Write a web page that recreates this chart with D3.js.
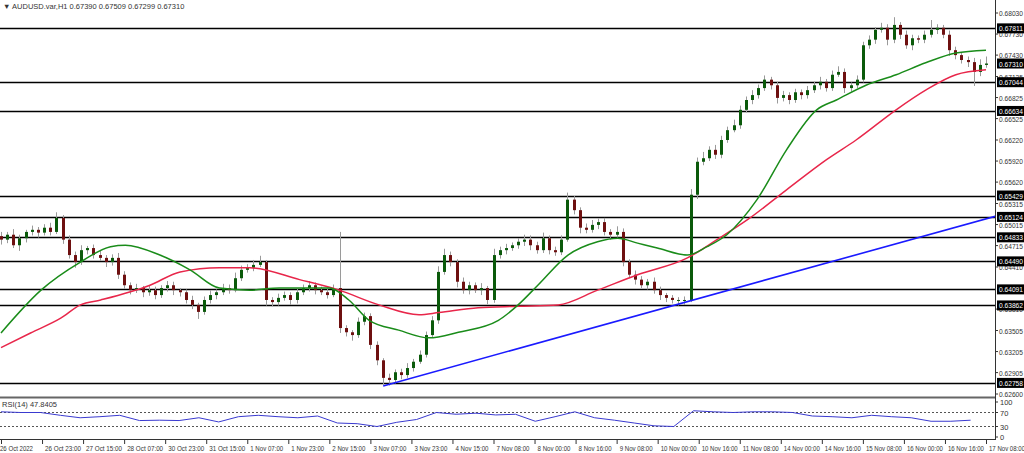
<!DOCTYPE html>
<html>
<head>
<meta charset="utf-8">
<script src="https://cdn.jsdelivr.net/npm/d3@7"></script>
<style>
body { margin: 0; background: #fff; }
svg { font-family: "Liberation Sans", Arial, sans-serif; }
</style>
</head>
<body>
<div id="chart"></div>
<script>
// candle closes in pips (6480 = 0.6480), each bar covers 2.4 hours
var firstOpen = 6485;
var closes = [
	6480,6487,6472,6482,6491,6494,6490,6497,6491,6511,
	6480,6458,6448,6465,6468,6458,6454,6448,6454,6430,
	6415,6408,6411,6405,6408,6401,6411,6415,6408,6405,
	6394,6387,6377,6394,6401,6405,6411,6408,6425,6437,
	6440,6444,6448,6394,6391,6397,6401,6394,6405,6411,
	6415,6408,6405,6401,6411,6354,6348,6344,6363,6371,
	6330,6308,6283,6280,6291,6287,6297,6306,6316,6344,
	6365,6434,6458,6448,6420,6408,6415,6408,6411,6394,
	6458,6465,6468,6472,6477,6480,6472,6465,6482,6465,
	6462,6480,6537,6522,6497,6494,6501,6505,6491,6487,
	6491,6448,6430,6423,6415,6420,6408,6401,6397,6394,
	6394,6394,6544,6591,6596,6608,6601,6622,6636,6643,
	6665,6679,6686,6696,6708,6700,6682,6686,6679,6690,
	6686,6693,6700,6705,6696,6715,6719,6696,6700,6708,
	6757,6765,6779,6782,6765,6786,6772,6757,6767,6765,
	6772,6779,6782,6772,6750,6743,6736,6733,6719,6729,
	6731
];
// upper / lower wick lengths in pips
var upWick = [
	6,4,8,5,3,6,4,5,7,8, 4,6,5,7,3,5,6,4,5,7, 5,4,6,3,7,5,4,6,5,3, 4,6,3,5,7,4,6,5,8,6,
	5,7,9,3,4,6,5,4,6,5, 6,4,5,7,5,80,4,3,6,5, 4,5,3,6,4,5,7,4,6,5, 6,8,9,5,4,6,5,4,7,3,
	9,5,6,4,5,7,6,5,8,4, 5,6,10,5,4,6,7,5,6,4, 8,5,4,6,5,4,6,5,3,4, 4,5,8,6,9,5,7,6,5,8,
	6,5,7,5,6,4,5,6,4,5, 4,6,5,7,4,6,8,5,4,6, 5,6,4,7,5,11,4,6,5,4, 6,14,5,4,6,5,4,5,6,8,
	10
];
var downWick = [
	7,5,4,8,6,5,7,4,5,3, 6,5,8,4,6,5,4,7,5,6, 5,6,4,7,5,6,4,5,7,6, 5,6,10,4,5,6,4,5,3,4,
	4,5,3,8,6,5,4,7,5,4, 5,6,4,5,3,7,6,8,4,5, 6,7,10,8,5,6,4,5,3,4, 3,5,4,6,8,5,6,4,7,6,
	4,5,6,4,5,6,7,5,4,6, 5,4,3,6,8,5,4,6,5,7, 4,6,5,7,4,6,5,7,6,5, 8,7,3,6,5,4,6,5,4,3,
	5,4,6,5,4,6,8,5,6,4, 6,5,4,6,5,4,3,7,5,4, 4,5,6,4,8,5,6,5,7,5, 5,4,6,5,8,6,5,7,20,6,
	4
];
var barHours = 2.4;

// moving averages: [bar index, pips]
var maGreen = [[0,6347],[6.5,6408],[12.9,6448],[17.8,6470],[20.2,6472],[25.8,6458],[30.7,6437],
	[35.5,6411],[40.4,6408],[45.2,6411],[53.3,6411],[56.5,6394],[59.8,6365],[64.6,6351],[69.5,6340],
	[74.3,6348],[80.8,6365],[84,6387],[87.2,6415],[92.1,6458],[96.9,6477],[100.2,6482],[103.4,6475],
	[106.6,6468],[111.5,6458],[114.7,6470],[117.9,6487],[122.8,6537],[127.6,6608],[132.5,6665],
	[135.7,6679],[140.5,6700],[145.4,6715],[150.2,6732],[155.1,6746],[160,6750]];
var maRed = [[0,6326],[4.8,6347],[9.7,6368],[12.9,6387],[16.2,6394],[24.2,6415],[29.1,6434],
	[35.5,6440],[40.4,6440],[48.5,6423],[54.9,6408],[61.4,6387],[67.9,6373],[71.1,6376],[77.5,6383],
	[84,6385],[90.5,6387],[96.9,6408],[103.4,6430],[111.5,6454],[116.3,6480],[121.2,6508],
	[127.6,6551],[134.1,6594],[138.9,6622],[145.4,6665],[150.2,6693],[155.1,6715],[160,6722]];

// trend line: [hour, price]
var trend = [[149,0.62715],[388,0.65137]];

// horizontal levels
var levels = [0.67811,0.67044,0.66634,0.65429,0.65124,0.64833,0.64490,0.64091,0.63862,0.62758];
var priceTicks = [0.68030,0.67730,0.67430,0.67125,0.66825,0.66525,0.66220,0.65920,0.65620,0.65315,
	0.65015,0.64715,0.64410,0.63810,0.63505,0.63205,0.62905,0.62600];
var lastPrice = 0.67310;

// RSI(14) sampled evenly across the chart
var rsi = [72,70,70,62,55,58,62,47,48,47,55,43,58,62,58,55,60,40,38,30,42,50,70,65,68,
	63,65,45,58,72,55,48,40,32,30,75,72,70,72,72,70,60,58,55,62,58,55,45,45,48];
var rsiTicks = [100,70,30,0];

var timeLabels = ["26 Oct 2022","26 Oct 23:00","27 Oct 15:00","28 Oct 07:00","30 Oct 23:00",
	"31 Oct 15:00","1 Nov 07:00","1 Nov 23:00","2 Nov 15:00","3 Nov 07:00","3 Nov 23:00",
	"4 Nov 15:00","7 Nov 08:00","8 Nov 00:00","8 Nov 16:00","9 Nov 08:00","10 Nov 00:00",
	"10 Nov 16:00","11 Nov 08:00","14 Nov 00:00","14 Nov 16:00","15 Nov 08:00","16 Nov 00:00",
	"16 Nov 16:00","17 Nov 08:00"];

var W = 1024, H = 453, axisX = 995, fs = "7.5px";

var svg = d3.select("#chart").append("svg").attr("width", W).attr("height", H);

var x = d3.scaleLinear().domain([0, 384]).range([1, 986]);
var y = d3.scaleLinear().domain([0.62600, 0.68030]).range([394, 13]);
var yr = d3.scaleLinear().domain([0, 100]).range([437, 402]);
var pip = function (v) { return v / 10000; };

// squeeze a label into a given width
function fit(sel, w) {
	sel.attr("textLength", w).attr("lengthAdjust", "spacingAndGlyphs");
}

// clip for main panel
svg.append("clipPath").attr("id", "mainClip").append("rect")
	.attr("x", 0).attr("y", 4).attr("width", axisX).attr("height", 390);

var main = svg.append("g").attr("clip-path", "url(#mainClip)");

// level lines
main.selectAll(".lvl").data(levels).enter().append("line")
	.attr("x1", 0).attr("x2", axisX)
	.attr("y1", function (d) { return Math.round(y(d)) + 0.5; })
	.attr("y2", function (d) { return Math.round(y(d)) + 0.5; })
	.attr("stroke", "#000").attr("stroke-width", 1.4);

// candles
var bars = closes.map(function (c, i) {
	var o = i === 0 ? firstOpen : closes[i - 1];
	return { i: i, o: pip(o), c: pip(c),
		h: pip(Math.max(o, c) + upWick[i]), l: pip(Math.min(o, c) - downWick[i]) };
});
var cg = main.append("g");
cg.selectAll(".wick").data(bars).enter().append("line")
	.attr("x1", function (d) { return Math.round(x(d.i * barHours)) + 0.5; })
	.attr("x2", function (d) { return Math.round(x(d.i * barHours)) + 0.5; })
	.attr("y1", function (d) { return y(d.h); })
	.attr("y2", function (d) { return y(d.l); })
	.attr("stroke", "#9a9a9a").attr("stroke-width", 1);
cg.selectAll(".body").data(bars).enter().append("rect")
	.attr("x", function (d) { return Math.round(x(d.i * barHours)) - 1; })
	.attr("width", 3)
	.attr("y", function (d) { return y(Math.max(d.o, d.c)); })
	.attr("height", function (d) { return Math.max(1, Math.abs(y(d.o) - y(d.c))); })
	.attr("fill", function (d) { return d.c >= d.o ? "#0b5a0b" : "#6e1010"; });

// moving averages
var maLine = d3.line()
	.x(function (d) { return x(d[0] * barHours); })
	.y(function (d) { return y(pip(d[1])); })
	.curve(d3.curveMonotoneX);
main.append("path").datum(maRed).attr("d", maLine)
	.attr("fill", "none").attr("stroke", "#e8264a").attr("stroke-width", 1.5);
main.append("path").datum(maGreen).attr("d", maLine)
	.attr("fill", "none").attr("stroke", "#1a8c1a").attr("stroke-width", 1.5);

// trend line
main.append("line")
	.attr("x1", x(trend[0][0])).attr("y1", y(trend[0][1]))
	.attr("x2", x(trend[1][0])).attr("y2", y(trend[1][1]))
	.attr("stroke", "#1a1aff").attr("stroke-width", 1.6);

// panel borders
svg.append("line").attr("x1", 0).attr("x2", axisX).attr("y1", 397.5).attr("y2", 397.5)
	.attr("stroke", "#666").attr("stroke-width", 2);
svg.append("line").attr("x1", axisX + 0.5).attr("x2", axisX + 0.5).attr("y1", 0).attr("y2", 440)
	.attr("stroke", "#333");
svg.append("line").attr("x1", 0).attr("x2", axisX).attr("y1", 439.5).attr("y2", 439.5)
	.attr("stroke", "#333");

// price axis
var pa = svg.append("g").attr("font-size", fs).attr("fill", "#333");
pa.selectAll("line").data(priceTicks).enter().append("line")
	.attr("x1", axisX).attr("x2", axisX + 3)
	.attr("y1", function (d) { return y(d); }).attr("y2", function (d) { return y(d); })
	.attr("stroke", "#333");
pa.selectAll("text").data(priceTicks).enter().append("text")
	.attr("x", axisX + 4).attr("y", function (d) { return y(d) + 3; })
	.text(function (d) { return d.toFixed(5); })
	.call(fit, 24);

// level and last price tags
var tags = levels.concat([lastPrice]);
var tg = svg.append("g").attr("font-size", fs);
tg.selectAll("rect").data(tags).enter().append("rect")
	.attr("x", axisX + 2).attr("width", 27)
	.attr("y", function (d) { return y(d) - 5; }).attr("height", 10)
	.attr("fill", "#000");
tg.selectAll("text").data(tags).enter().append("text")
	.attr("x", axisX + 4).attr("y", function (d) { return y(d) + 3; })
	.attr("fill", "#fff").text(function (d) { return d.toFixed(5); })
	.call(fit, 24);

// RSI panel
svg.selectAll(".rsiLvl").data([70, 30]).enter().append("line")
	.attr("x1", 0).attr("x2", axisX)
	.attr("y1", function (d) { return yr(d); }).attr("y2", function (d) { return yr(d); })
	.attr("stroke", "#555").attr("stroke-dasharray", "2,2");
var xr = d3.scaleLinear().domain([0, rsi.length - 1]).range([x(0), x(378)]);
svg.append("path").datum(rsi)
	.attr("d", d3.line().x(function (d, i) { return xr(i); }).y(function (d) { return yr(d); }))
	.attr("fill", "none").attr("stroke", "#3a3ad0").attr("stroke-width", 1);
var ra = svg.append("g").attr("font-size", fs).attr("fill", "#333");
ra.selectAll("line").data(rsiTicks).enter().append("line")
	.attr("x1", axisX).attr("x2", axisX + 3)
	.attr("y1", function (d) { return yr(d); }).attr("y2", function (d) { return yr(d); })
	.attr("stroke", "#333");
ra.selectAll("text").data(rsiTicks).enter().append("text")
	.attr("x", axisX + 5).attr("y", function (d) { return yr(d) + 3; })
	.text(function (d) { return d; });
svg.append("text").attr("x", 2).attr("y", 407).attr("font-size", fs).attr("fill", "#333")
	.text("RSI(14) 47.8405");

// time axis
var ta = svg.append("g").attr("font-size", fs).attr("fill", "#333");
ta.selectAll("line").data(timeLabels).enter().append("line")
	.attr("x1", function (d, i) { return x(i * 16) + 0.5; })
	.attr("x2", function (d, i) { return x(i * 16) + 0.5; })
	.attr("y1", 440).attr("y2", 444).attr("stroke", "#333");
ta.selectAll("text").data(timeLabels).enter().append("text")
	.attr("x", function (d, i) { return i === 0 ? 0 : x(i * 16) + 3; })
	.attr("y", 451).text(function (d) { return d; })
	.each(function (d) { d3.select(this).call(fit, d.length * 3); });

// header
svg.append("text").attr("x", 3).attr("y", 9).attr("font-size", fs).attr("fill", "#333")
	.text("\u25BC AUDUSD.var,H1  0.67390 0.67509 0.67299 0.67310");
</script>
</body>
</html>
